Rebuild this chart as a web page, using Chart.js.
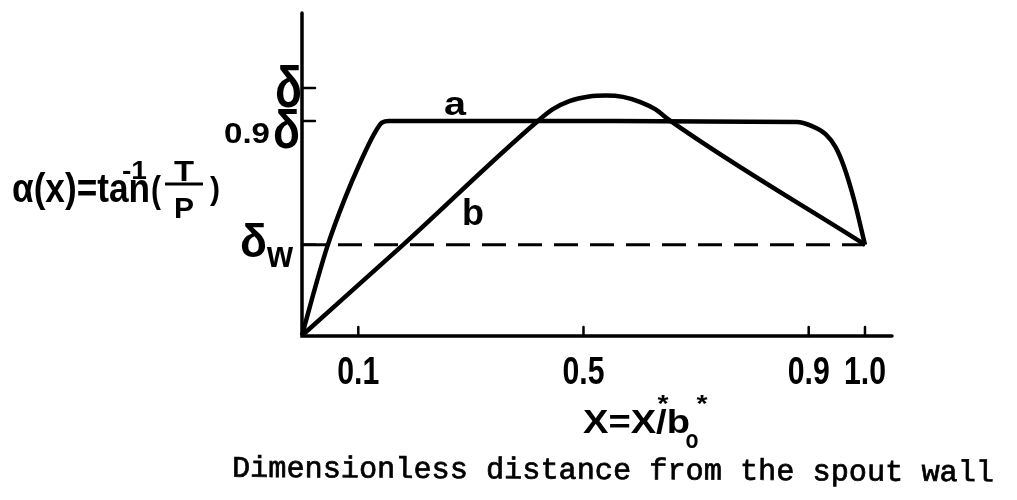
<!DOCTYPE html>
<html>
<head>
<meta charset="utf-8">
<script src="https://cdn.jsdelivr.net/npm/chart.js@4.4.1/dist/chart.umd.min.js"></script>
<style>
  html, body { margin: 0; padding: 0; background: #fff; overflow: hidden; }
  canvas { display: block; }
</style>
</head>
<body>
<canvas id="chart" width="1017" height="500"></canvas>
<script>
// x is the dimensionless distance x*/b0*, y is alpha in units of delta
const aX = [0, 0.02, 0.045, 0.075, 0.105, 0.128, 0.142, 0.155, 0.5, 0.879, 0.905, 0.93, 0.948, 0.962, 0.98, 1.0];
const aY = [0.25, 0.375, 0.52, 0.66, 0.78, 0.86, 0.895, 0.9, 0.9, 0.897, 0.885, 0.86, 0.82, 0.765, 0.665, 0.525];

const bX = [0, 0.179, 0.419, 0.445, 0.475, 0.51, 0.54, 0.57, 0.60, 0.628, 0.652, 1.0];
const bY = [0.25, 0.524, 0.9, 0.935, 0.96, 0.974, 0.977, 0.973, 0.958, 0.935, 0.903, 0.525];

// wall value delta_w
const wallX = [0, 1.0];
const wallY = [0.525, 0.525];

const xTicks = [0.1, 0.5, 0.9, 1.0];
const xTickLabels = ["0.1", "0.5", "0.9", "1.0"];
const yTicks = [1.0, 0.9, 0.525]; // delta, 0.9 delta, delta_w

const toPoints = (xs, ys) => xs.map((x, i) => ({ x: x, y: ys[i] }));

const SANS = 'bold "Liberation Sans", Arial, sans-serif';
const MONO = '"Liberation Mono", "Courier New", monospace';

// draws text squeezed or stretched to a given width
function txt(ctx, str, x, y, size, width, align, family, thicken) {
  ctx.save();
  const fam = family || SANS;
  ctx.font = fam.startsWith("bold") ? "bold " + size + "px " + fam.slice(5) : size + "px " + fam;
  const natural = ctx.measureText(str).width;
  const sx = width ? width / natural : 1;
  const w = natural * sx;
  let left = x;
  if (align === "center") left = x - w / 2;
  if (align === "right") left = x - w;
  ctx.translate(left, y);
  ctx.scale(sx, 1);
  ctx.textAlign = "left";
  ctx.textBaseline = "alphabetic";
  ctx.fillStyle = "#000";
  ctx.fillText(str, 0, 0);
  if (thicken) {
    ctx.strokeStyle = "#000";
    ctx.lineWidth = thicken;
    ctx.strokeText(str, 0, 0);
  }
  ctx.restore();
  return w;
}

const sketchAxes = {
  id: "sketchAxes",
  afterDraw(chart) {
    const ctx = chart.ctx;
    const area = chart.chartArea;
    const xs = chart.scales.x;
    const ys = chart.scales.y;

    ctx.save();
    ctx.strokeStyle = "#000";
    ctx.lineCap = "round";

    // axes
    ctx.lineWidth = 3.5;
    ctx.beginPath();
    ctx.moveTo(area.left, area.top);
    ctx.lineTo(area.left, area.bottom);
    ctx.lineTo(area.right, area.bottom);
    ctx.stroke();

    // ticks point inwards
    ctx.lineWidth = 2.5;
    xTicks.forEach(v => {
      const px = xs.getPixelForValue(v);
      ctx.beginPath();
      ctx.moveTo(px, area.bottom);
      ctx.lineTo(px, area.bottom - 9);
      ctx.stroke();
    });
    yTicks.forEach(v => {
      const py = ys.getPixelForValue(v);
      ctx.beginPath();
      ctx.moveTo(area.left, py);
      ctx.lineTo(area.left + 13, py);
      ctx.stroke();
    });
    ctx.restore();

    // x tick labels
    xTicks.forEach((v, i) => {
      const px = xs.getPixelForValue(v);
      txt(ctx, xTickLabels[i], px, 384, 38, 42, "center");
    });

    // y tick labels
    const yD = ys.getPixelForValue(yTicks[0]);
    const y9 = ys.getPixelForValue(yTicks[1]);
    const yW = ys.getPixelForValue(yTicks[2]);
    txt(ctx, "δ", area.left, yD + 19, 58, 27, "right");
    txt(ctx, "0.9", 270, y9 + 22, 29, 46, "right");
    txt(ctx, "δ", 300, y9 + 27, 54, 27, "right");
    txt(ctx, "δ", 267, yW + 12, 46, 27, "right");
    txt(ctx, "w", 267, yW + 22, 36, 26, "left");

    // y axis title: alpha(x) = tan^-1 (T/P)
    txt(ctx, "α(x)=tan", 12, 202, 40, 138, "left");
    txt(ctx, "-1", 122, 179, 26, 25, "left");
    txt(ctx, "(", 151, 202, 36, 10, "left");
    ctx.save();
    ctx.strokeStyle = "#000";
    ctx.lineWidth = 3;
    ctx.beginPath();
    ctx.moveTo(165, 184);
    ctx.lineTo(203, 184);
    ctx.stroke();
    ctx.restore();
    txt(ctx, "T", 184, 181, 30, 20, "center");
    txt(ctx, "P", 184, 218, 29, 20, "center");
    txt(ctx, ")", 210, 199, 32, 10, "left");

    // curve names
    txt(ctx, "a", 455, 115, 34, 22, "center");
    txt(ctx, "b", 473, 225, 37, 22, "center");

    // x axis title: X = x*/b0*
    const w = txt(ctx, "X=X/b", 583, 433, 33, 107, "left");
    txt(ctx, "*", 663, 412, 24, 11, "center");
    txt(ctx, "*", 583 + w + 12, 412, 24, 11, "center");
    txt(ctx, "o", 583 + w + 2, 448, 26, 13, "center");

    // caption
    ctx.save();
    ctx.translate(613, 472);
    ctx.rotate(0.006);
    txt(ctx, "Dimensionless distance from the spout wall", 0, 7, 30, 762, "center", MONO, 0.7);
    ctx.restore();
  }
};

new Chart(document.getElementById("chart").getContext("2d"), {
  type: "line",
  data: {
    datasets: [
      {
        label: "a",
        data: toPoints(aX, aY),
        borderColor: "#000",
        borderWidth: 4.5,
        pointRadius: 0,
        fill: false,
        cubicInterpolationMode: "monotone",
        clip: false
      },
      {
        label: "b",
        data: toPoints(bX, bY),
        borderColor: "#000",
        borderWidth: 4.5,
        pointRadius: 0,
        fill: false,
        cubicInterpolationMode: "monotone",
        clip: false
      },
      {
        label: "wall",
        data: toPoints(wallX, wallY),
        borderColor: "#000",
        borderWidth: 3,
        borderDash: [24, 12],
        pointRadius: 0,
        fill: false,
        clip: false
      }
    ]
  },
  options: {
    responsive: false,
    animation: false,
    devicePixelRatio: 1,
    layout: { padding: { left: 302, top: 13, right: 125, bottom: 164 } },
    plugins: { legend: { display: false }, tooltip: { enabled: false } },
    scales: {
      x: { type: "linear", min: 0, max: 1.048, display: false },
      y: { type: "linear", min: 0.2485, max: 1.227, display: false }
    }
  },
  plugins: [sketchAxes]
});
</script>
</body>
</html>
